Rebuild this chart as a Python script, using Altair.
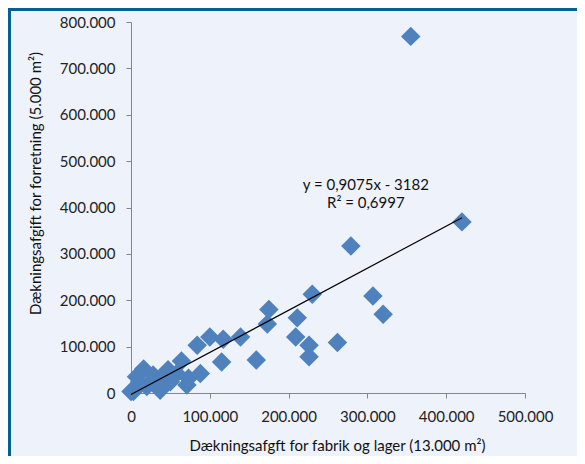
import altair as alt
import pandas as pd

# Data
fabrik_lager = [355000, 420000, 279000, 307000, 320000, 230000, 175000, 173000, 211000, 209000,
                226000, 226000, 262000, 159000, 139000, 117000, 100000, 84000, 115000, 64000,
                58000, 73000, 88000, 71000, 16000, 28000, 41000, 47000, 11000, 33000,
                0, 5000, 20000, 50000, 37000, 7000, 3000]
forretning = [769000, 369000, 317000, 209000, 170000, 213000, 180000, 149000, 162000, 121000,
              103000, 78000, 109000, 71000, 121000, 116000, 121000, 103000, 67000, 69000,
              42000, 32000, 42000, 17000, 52000, 39000, 39000, 50000, 24000, 17000,
              3000, 10000, 14000, 24000, 6000, 35000, 3000]

slope = 0.9075
intercept = -3182
trend_x = [0, 420000]
eq_lines = ["y = 0,9075x - 3182", "R² = 0,6997"]
eq_x = [298000, 298000]
eq_y = [448000, 409000]

x_title = "Dækningsafgft  for fabrik og lager (13.000 m²)"
y_title = "Dækningsafgift  for forretning (5.000 m²)"

df = pd.DataFrame({"x": fabrik_lager, "y": forretning})
trend = pd.DataFrame({"x": trend_x, "y": [slope * v + intercept for v in trend_x]})
eq = pd.DataFrame({"x": eq_x, "y": eq_y, "t": eq_lines})

FONT = "Lato"
FS = 15
label_expr = "datum.value == 0 ? '0' : format(datum.value / 1000, 'd') + '.000'"

xscale = alt.Scale(domain=[0, 500000], nice=False, zero=True)
yscale = alt.Scale(domain=[0, 800000], nice=False, zero=True)

xaxis = alt.Axis(values=[0, 100000, 200000, 300000, 400000, 500000], labelExpr=label_expr,
                 labelOverlap=False, labelBound=False, labelFlush=False,
                 grid=False, domainColor="#868686", tickColor="#868686", tickSize=5,
                 labelPadding=11, labelFont=FONT, labelFontSize=FS, labelColor="#222222",
                 title=x_title, titleFont=FONT, titleFontSize=FS, titleFontWeight="normal",
                 titleColor="#111111", titleX=206, titleY=52, titleAlign="center",
                 titleBaseline="middle")
yaxis = alt.Axis(values=[0, 100000, 200000, 300000, 400000, 500000, 600000, 700000, 800000],
                 labelExpr=label_expr, labelOverlap=False, labelFlush=False, grid=False,
                 domainColor="#868686", tickColor="#868686",
                 tickSize=5, labelPadding=11, labelFont=FONT, labelFontSize=FS,
                 labelColor="#222222", title=y_title, titleFont=FONT, titleFontSize=FS,
                 titleFontWeight="normal", titleColor="#111111", titleAngle=270,
                 titleX=-96, titleY=161, titleAlign="center", titleBaseline="middle")

points = alt.Chart(df).mark_point(shape="diamond", filled=True, size=380, opacity=1,
                                  color="#4f81bd").encode(
    x=alt.X("x:Q", scale=xscale, axis=xaxis),
    y=alt.Y("y:Q", scale=yscale, axis=yaxis),
)

line = alt.Chart(trend).mark_line(color="#000000", strokeWidth=1.2).encode(
    x=alt.X("x:Q", scale=xscale), y=alt.Y("y:Q", scale=yscale))

text = alt.Chart(eq).mark_text(font=FONT, fontSize=FS, color="#111111", align="center",
                               baseline="middle").encode(
    x=alt.X("x:Q", scale=xscale), y=alt.Y("y:Q", scale=yscale), text="t:N")

frame_top = alt.Chart(pd.DataFrame({"a": [0]})).mark_rect(color="#00628f").encode(
    x=alt.value(-135), x2=alt.value(470), y=alt.value(-20), y2=alt.value(-11))
frame_left = alt.Chart(pd.DataFrame({"a": [0]})).mark_rect(color="#00628f").encode(
    x=alt.value(-124), x2=alt.value(-120), y=alt.value(-14), y2=alt.value(470))

chart = alt.layer(frame_top, frame_left, points, line, text).properties(
    width=394, height=371,
    autosize=alt.AutoSizeParams(type="none"),
    padding={"left": 123, "top": 14, "right": 52, "bottom": 63},
    background="#eef2fb",
).configure_view(stroke=None)

chart.save("out.html", embed_options={"renderer": "svg", "actions": False})
